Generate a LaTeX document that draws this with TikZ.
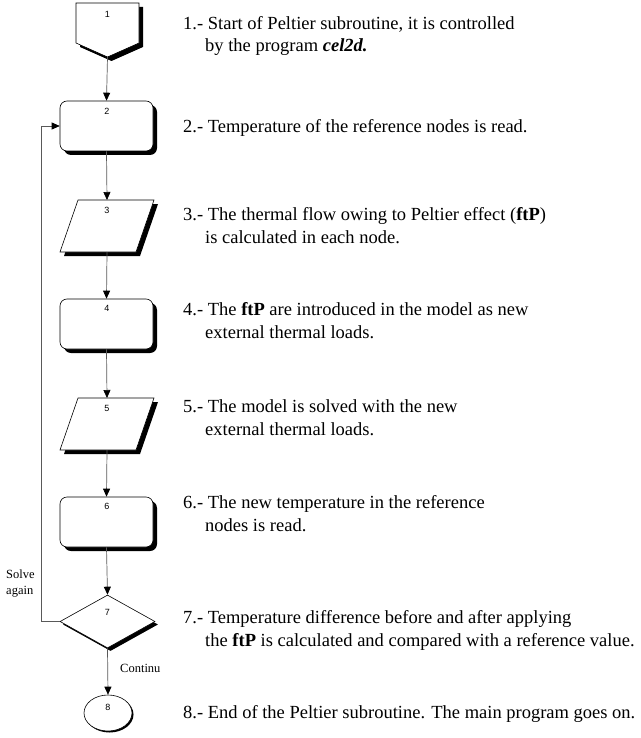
\documentclass[tikz,border=0pt]{standalone}
\usepackage{fontspec}
\setmainfont{Liberation Serif}
\newfontfamily\numfont{Liberation Sans}
\usetikzlibrary{shapes.geometric,arrows.meta,shadows}
\begin{document}
\begin{tikzpicture}[x=1pt,y=-1pt,
  shad/.style={general shadow={fill=black, shadow xshift=4pt, shadow yshift=-4pt}},
  rbox/.style={draw=black, fill=white, line width=0.6pt, rounded corners=7pt, minimum width=93pt, minimum height=50pt, inner sep=0pt, shad},
  dec/.style={draw=black, fill=white, line width=0.6pt, diamond, minimum width=95pt, minimum height=53pt, inner sep=0pt, general shadow={fill=black, shadow xshift=3pt, shadow yshift=-3pt}},
  term/.style={draw=black, fill=white, line width=0.6pt, ellipse, minimum width=48pt, minimum height=36pt, inner sep=0pt, general shadow={fill=black, shadow xshift=1.5pt, shadow yshift=-1.5pt}},
  inv/.style={inner sep=0pt, outer sep=0pt},
  outline/.style={fill=white, draw=black, line width=0.6pt},
  num/.style={font=\numfont\fontsize{9}{10}\selectfont, inner sep=0pt},
  desc/.style={anchor=base west, align=left, inner sep=0pt, font=\fontsize{18.5}{22.5}\selectfont},
  small/.style={inner sep=0pt, align=left, font=\fontsize{12.5}{16}\selectfont},
  conn/.style={draw=black!65, line width=0.7pt, -{Triangle[black,width=7pt,length=8pt]}}
]
\useasboundingbox (0,0) rectangle (640,738);
% node 1: off-page connector
\node[inv, minimum width=63pt, minimum height=54pt] (n1) at (107.5,30) {};
\fill[black] (80,7) -- (143,7) -- (143,47) -- (111.5,61) -- (80,47) -- cycle;
\filldraw[outline] (76,3) -- (139,3) -- (139,43) -- (107.5,57) -- (76,43) -- cycle;
\node[num] (l1) at (107.5,14) {1};
% rounded boxes
\node[rbox] (n2) at (106.5,126) {};
\node[rbox] (n4) at (106.5,324) {};
\node[rbox] (n6) at (106.5,522) {};
% parallelograms (data)
\node[inv, minimum width=94pt, minimum height=52pt] (n3) at (107,226) {};
\fill[black] (82,204) -- (158,204) -- (140,256) -- (64,256) -- cycle;
\filldraw[outline] (78,200) -- (154,200) -- (136,252) -- (60,252) -- cycle;
\node[inv, minimum width=94pt, minimum height=52pt] (n5) at (107,424) {};
\fill[black] (82,402) -- (158,402) -- (140,454) -- (64,454) -- cycle;
\filldraw[outline] (78,398) -- (154,398) -- (136,450) -- (60,450) -- cycle;
% decision and terminal
\node[dec] (n7) at (107.5,621.5) {};
\node[term] (n8) at (108,713) {};
% numbers
\node[num] (l2) at (107,111) {2};
\node[num] (l3) at (107,210) {3};
\node[num] (l4) at (107,308) {4};
\node[num] (l5) at (107,408) {5};
\node[num] (l6) at (107,506) {6};
\node[num] (l7) at (107.5,612) {7};
\node[num] (l8) at (108,707) {8};
% connectors
\draw[conn] (n1.south) -- (n2.north);
\draw[conn] (n2.south) -- (n3.north);
\draw[conn] (n3.south) -- (n4.north);
\draw[conn] (n4.south) -- (n5.north);
\draw[conn] (n5.south) -- (n6.north);
\draw[conn] (n6.south) -- (n7.north);
\draw[conn] (n7.south) -- (n8.north);
\draw[conn] (n7.west) -- ++(-18,0) |- (n2.west);
% branch labels
\node[small, anchor=north west] (sa) at (6,570) {Solve\\again};
\node[small, anchor=west] (co) at (120,668) {Continu};
% descriptions (position = baseline of last line)
\node[desc] (d1) at (183,52) {1.- Start of Peltier subroutine, it is controlled\\\hspace*{22pt}by the program \textbf{\textit{cel2d.}}};
\node[desc] (d2) at (183,133) {2.- Temperature of the reference nodes is read.};
\node[desc] (d3) at (183,243) {3.- The thermal flow owing to Peltier effect (\textbf{ftP})\\\hspace*{22pt}is calculated in each node.};
\node[desc] (d4) at (183,338) {4.- The \textbf{ftP} are introduced in the model as new\\\hspace*{22pt}external thermal loads.};
\node[desc] (d5) at (183,435) {5.- The model is solved with the new\\\hspace*{22pt}external thermal loads.};
\node[desc] (d6) at (183,531) {6.- The new temperature in the reference\\\hspace*{22pt}nodes is read.};
\node[desc] (d7) at (183,646) {7.- Temperature difference before and after applying\\\hspace*{22pt}the \textbf{ftP} is calculated and compared with a reference value.};
\node[desc] (d8) at (183,718) {8.- End of the Peltier subroutine. The main program goes on.};
\end{tikzpicture}
\end{document}
